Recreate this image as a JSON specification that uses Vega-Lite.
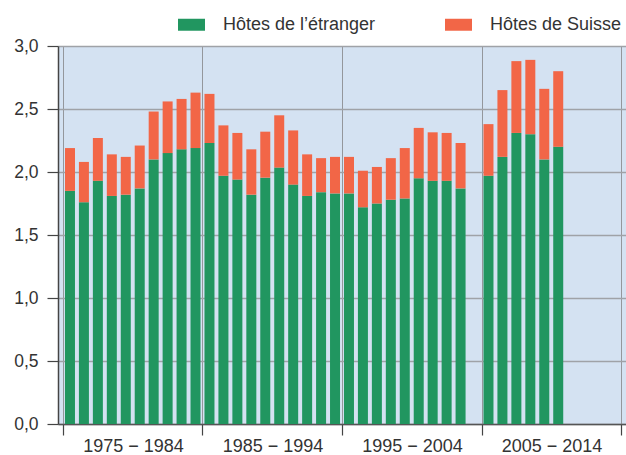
{
  "$schema": "https://vega.github.io/schema/vega-lite/v6.json",
  "width": 568,
  "height": 378,
  "autosize": {"type": "none"},
  "padding": {"left": 58, "top": 46, "right": 0, "bottom": 31},
  "background": "white",
  "config": {
    "view": {"fill": "#d4e2f2", "stroke": null},
    "font": "Liberation Sans",
    "axis": {"labelColor": "#333333", "labelFont": "Liberation Sans"},
    "legend": {"labelColor": "#333333", "labelFont": "Liberation Sans"}
  },
  "data": {
    "values": [
      {"year": 1975, "cat": "Hôtes de l’étranger", "v": 1.85}, {"year": 1975, "cat": "Hôtes de Suisse", "v": 0.34},
      {"year": 1976, "cat": "Hôtes de l’étranger", "v": 1.76}, {"year": 1976, "cat": "Hôtes de Suisse", "v": 0.32},
      {"year": 1977, "cat": "Hôtes de l’étranger", "v": 1.93}, {"year": 1977, "cat": "Hôtes de Suisse", "v": 0.34},
      {"year": 1978, "cat": "Hôtes de l’étranger", "v": 1.81}, {"year": 1978, "cat": "Hôtes de Suisse", "v": 0.33},
      {"year": 1979, "cat": "Hôtes de l’étranger", "v": 1.82}, {"year": 1979, "cat": "Hôtes de Suisse", "v": 0.30},
      {"year": 1980, "cat": "Hôtes de l’étranger", "v": 1.87}, {"year": 1980, "cat": "Hôtes de Suisse", "v": 0.34},
      {"year": 1981, "cat": "Hôtes de l’étranger", "v": 2.10}, {"year": 1981, "cat": "Hôtes de Suisse", "v": 0.38},
      {"year": 1982, "cat": "Hôtes de l’étranger", "v": 2.15}, {"year": 1982, "cat": "Hôtes de Suisse", "v": 0.41},
      {"year": 1983, "cat": "Hôtes de l’étranger", "v": 2.18}, {"year": 1983, "cat": "Hôtes de Suisse", "v": 0.40},
      {"year": 1984, "cat": "Hôtes de l’étranger", "v": 2.19}, {"year": 1984, "cat": "Hôtes de Suisse", "v": 0.44},
      {"year": 1985, "cat": "Hôtes de l’étranger", "v": 2.23}, {"year": 1985, "cat": "Hôtes de Suisse", "v": 0.39},
      {"year": 1986, "cat": "Hôtes de l’étranger", "v": 1.97}, {"year": 1986, "cat": "Hôtes de Suisse", "v": 0.40},
      {"year": 1987, "cat": "Hôtes de l’étranger", "v": 1.94}, {"year": 1987, "cat": "Hôtes de Suisse", "v": 0.37},
      {"year": 1988, "cat": "Hôtes de l’étranger", "v": 1.82}, {"year": 1988, "cat": "Hôtes de Suisse", "v": 0.36},
      {"year": 1989, "cat": "Hôtes de l’étranger", "v": 1.955}, {"year": 1989, "cat": "Hôtes de Suisse", "v": 0.365},
      {"year": 1990, "cat": "Hôtes de l’étranger", "v": 2.035}, {"year": 1990, "cat": "Hôtes de Suisse", "v": 0.415},
      {"year": 1991, "cat": "Hôtes de l’étranger", "v": 1.90}, {"year": 1991, "cat": "Hôtes de Suisse", "v": 0.43},
      {"year": 1992, "cat": "Hôtes de l’étranger", "v": 1.81}, {"year": 1992, "cat": "Hôtes de Suisse", "v": 0.33},
      {"year": 1993, "cat": "Hôtes de l’étranger", "v": 1.84}, {"year": 1993, "cat": "Hôtes de Suisse", "v": 0.27},
      {"year": 1994, "cat": "Hôtes de l’étranger", "v": 1.83}, {"year": 1994, "cat": "Hôtes de Suisse", "v": 0.29},
      {"year": 1995, "cat": "Hôtes de l’étranger", "v": 1.83}, {"year": 1995, "cat": "Hôtes de Suisse", "v": 0.29},
      {"year": 1996, "cat": "Hôtes de l’étranger", "v": 1.72}, {"year": 1996, "cat": "Hôtes de Suisse", "v": 0.29},
      {"year": 1997, "cat": "Hôtes de l’étranger", "v": 1.75}, {"year": 1997, "cat": "Hôtes de Suisse", "v": 0.29},
      {"year": 1998, "cat": "Hôtes de l’étranger", "v": 1.78}, {"year": 1998, "cat": "Hôtes de Suisse", "v": 0.33},
      {"year": 1999, "cat": "Hôtes de l’étranger", "v": 1.79}, {"year": 1999, "cat": "Hôtes de Suisse", "v": 0.40},
      {"year": 2000, "cat": "Hôtes de l’étranger", "v": 1.95}, {"year": 2000, "cat": "Hôtes de Suisse", "v": 0.40},
      {"year": 2001, "cat": "Hôtes de l’étranger", "v": 1.93}, {"year": 2001, "cat": "Hôtes de Suisse", "v": 0.385},
      {"year": 2002, "cat": "Hôtes de l’étranger", "v": 1.93}, {"year": 2002, "cat": "Hôtes de Suisse", "v": 0.38},
      {"year": 2003, "cat": "Hôtes de l’étranger", "v": 1.87}, {"year": 2003, "cat": "Hôtes de Suisse", "v": 0.36},
      {"year": 2005, "cat": "Hôtes de l’étranger", "v": 1.97}, {"year": 2005, "cat": "Hôtes de Suisse", "v": 0.41},
      {"year": 2006, "cat": "Hôtes de l’étranger", "v": 2.12}, {"year": 2006, "cat": "Hôtes de Suisse", "v": 0.53},
      {"year": 2007, "cat": "Hôtes de l’étranger", "v": 2.31}, {"year": 2007, "cat": "Hôtes de Suisse", "v": 0.57},
      {"year": 2008, "cat": "Hôtes de l’étranger", "v": 2.30}, {"year": 2008, "cat": "Hôtes de Suisse", "v": 0.59},
      {"year": 2009, "cat": "Hôtes de l’étranger", "v": 2.10}, {"year": 2009, "cat": "Hôtes de Suisse", "v": 0.56},
      {"year": 2010, "cat": "Hôtes de l’étranger", "v": 2.20}, {"year": 2010, "cat": "Hôtes de Suisse", "v": 0.60}
    ]
  },
  "mark": {"type": "bar", "width": 10},
  "encoding": {
    "x": {
      "field": "year", "type": "quantitative",
      "scale": {"domain": [1974.5, 2014.5], "nice": false, "zero": false},
      "axis": {
        "title": null,
        "values": [1974.5, 1984.5, 1994.5, 2004.5, 2014.5],
        "labelExpr": "datum.value < 2010 ? (floor(datum.value + 0.5) + ' − ' + (floor(datum.value + 0.5) + 9)) : ''",
        "labelOffset": 70,
        "labelFlush": false,
        "labelOverlap": false,
        "labelFontSize": 18,
        "labelPadding": 2,
        "grid": true,
        "gridColor": "#94979c",
        "gridWidth": 1,
        "tickSize": 11,
        "tickColor": "#444444",
        "tickWidth": 1.2,
        "domainColor": "#555555",
        "domainWidth": 1.5
      }
    },
    "y": {
      "field": "v", "type": "quantitative", "stack": "zero",
      "scale": {"domain": [0, 3], "nice": false},
      "axis": {
        "title": null,
        "values": [0, 0.5, 1, 1.5, 2, 2.5, 3],
        "labelExpr": "replace(format(datum.value, '.1f'), '.', ',')",
        "labelFontSize": 17.5,
        "labelPadding": 9,
        "grid": true,
        "gridColor": "#9fa2a7",
        "gridWidth": 1.6,
        "tickSize": 11,
        "tickColor": "#444444",
        "tickWidth": 1.2,
        "domainColor": "#444444",
        "domainWidth": 1.5
      }
    },
    "color": {
      "field": "cat", "type": "nominal",
      "sort": ["Hôtes de l’étranger", "Hôtes de Suisse"],
      "scale": {"domain": ["Hôtes de l’étranger", "Hôtes de Suisse"], "range": ["#219660", "#f26647"]},
      "legend": {
        "title": null,
        "orient": "none",
        "legendX": 120,
        "legendY": -35,
        "direction": "horizontal",
        "columnPadding": 69,
        "labelOffset": 18,
        "labelFontSize": 18,
        "labelLimit": 300,
        "symbolType": "M-1,-0.444H1V0.444H-1Z",
        "symbolSize": 729,
        "symbolStrokeWidth": 0,
        "symbolOpacity": 1,
        "padding": 0
      }
    },
    "order": {"field": "cat", "sort": "descending"}
  }
}
